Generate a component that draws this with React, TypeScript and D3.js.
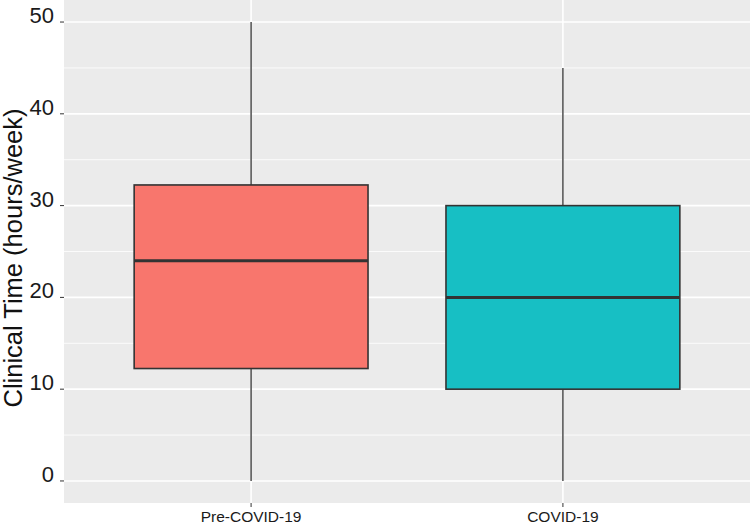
import React from "react";
import { scaleLinear, range } from "d3";

// box stats
const groups = ["Pre-COVID-19", "COVID-19"];
const whiskerLow = [0, 0];
const q1 = [12.25, 10];
const median = [24, 20];
const q3 = [32.25, 30];
const whiskerHigh = [50, 45];
const fills = ["#F8766D", "#17BFC4"];
const yTicks = [0, 10, 20, 30, 40, 50];

const W = 750;
const H = 524;
const left = 64;
const top = 0;
const bottom = 503;
const font = "Liberation Sans, Arial, sans-serif";

const App = () => {
  const y = scaleLinear().domain([-2.5, 52.5]).range([bottom + 0.9, top - 0.9]);
  // discrete positions with 0.6 expansion on each side, like ggplot
  const x = scaleLinear().domain([0.4, 2.6]).range([left, W]);
  const xc = (g) => x(groups.indexOf(g) + 1);
  const bw = x(1.75) - x(1);
  const minor = range(-5, 56, 10).filter((v) => v > -2.5 && v < 52.5);

  return (
    <svg width={W} height={H} style={{ display: "block", position: "absolute", left: 0, top: 0 }}>
      <rect x={left} y={top} width={W - left} height={bottom - top} fill="#EBEBEB" />
      {minor.map((v) => (
        <line key={"m" + v} x1={left} x2={W} y1={y(v)} y2={y(v)} stroke="#fff" strokeWidth={0.8} />
      ))}
      {yTicks.map((v) => (
        <line key={"g" + v} x1={left} x2={W} y1={y(v)} y2={y(v)} stroke="#fff" strokeWidth={1.6} />
      ))}
      {groups.map((g) => (
        <line key={"gx" + g} x1={xc(g)} x2={xc(g)} y1={top} y2={bottom} stroke="#fff" strokeWidth={1.6} />
      ))}
      {groups.map((g, i) => {
        const cx = xc(g);
        return (
          <g key={g}>
            <line x1={cx} x2={cx} y1={y(whiskerHigh[i])} y2={y(q3[i])} stroke="#333" strokeWidth={1.3} />
            <line x1={cx} x2={cx} y1={y(q1[i])} y2={y(whiskerLow[i])} stroke="#333" strokeWidth={1.3} />
            <rect
              x={cx - bw / 2}
              y={y(q3[i])}
              width={bw}
              height={y(q1[i]) - y(q3[i])}
              fill={fills[i]}
              stroke="#333"
              strokeWidth={1.6}
            />
            <line x1={cx - bw / 2} x2={cx + bw / 2} y1={y(median[i])} y2={y(median[i])} stroke="#333" strokeWidth={3} />
          </g>
        );
      })}
      {/* y axis */}
      {yTicks.map((v) => (
        <g key={"t" + v}>
          <line x1={left - 4} x2={left} y1={y(v)} y2={y(v)} stroke="#333" strokeWidth={1} />
          <text x={54} y={y(v) + 1} textAnchor="end" fontFamily={font} fontSize={22} fill="#1a1a1a">
            {v}
          </text>
        </g>
      ))}
      {/* x axis */}
      {groups.map((g) => (
        <g key={"xt" + g}>
          <line x1={xc(g)} x2={xc(g)} y1={bottom} y2={bottom + 4} stroke="#333" strokeWidth={1} />
          <text x={xc(g)} y={bottom + 19} textAnchor="middle" fontFamily={font} fontSize={15.5} fill="#1a1a1a">
            {g}
          </text>
        </g>
      ))}
      <text
        transform={`translate(22, 258) rotate(-90)`}
        textAnchor="middle"
        fontFamily={font}
        fontSize={25.5}
        fill="#111"
      >
        Clinical Time (hours/week)
      </text>
    </svg>
  );
};

export default App;
